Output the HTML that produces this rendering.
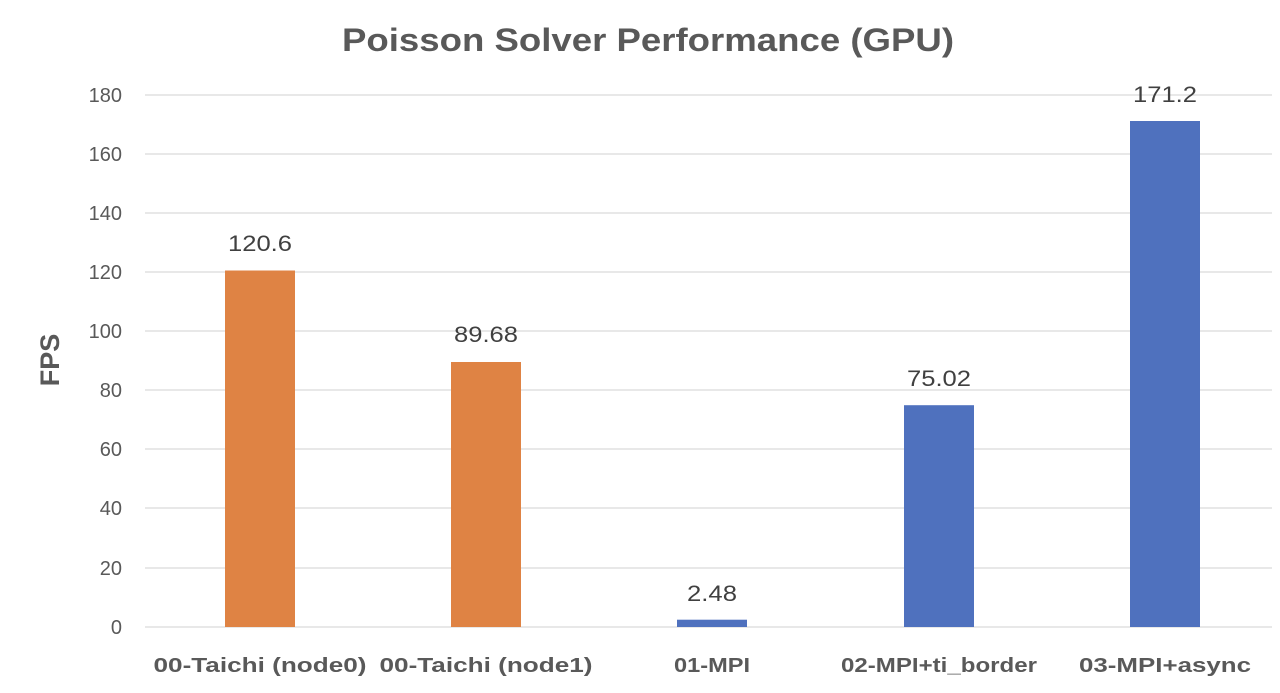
<!DOCTYPE html>
<html><head><meta charset="utf-8"><style>
html,body{margin:0;padding:0;background:#fff;}
svg{display:block;font-family:"Liberation Sans",sans-serif;}
</style></head><body>
<svg width="1280" height="693" viewBox="0 0 1280 693" xmlns="http://www.w3.org/2000/svg">
<rect width="1280" height="693" fill="#fff"/>
<text x="648" y="51" text-anchor="middle" font-size="32" font-weight="bold" fill="#595959" textLength="612" lengthAdjust="spacingAndGlyphs">Poisson Solver Performance (GPU)</text>
<g stroke="#d9d9d9" stroke-width="1.3">
<line x1="145" x2="1272" y1="95" y2="95"/>
<line x1="145" x2="1272" y1="154" y2="154"/>
<line x1="145" x2="1272" y1="213" y2="213"/>
<line x1="145" x2="1272" y1="272" y2="272"/>
<line x1="145" x2="1272" y1="331" y2="331"/>
<line x1="145" x2="1272" y1="390" y2="390"/>
<line x1="145" x2="1272" y1="449" y2="449"/>
<line x1="145" x2="1272" y1="508" y2="508"/>
<line x1="145" x2="1272" y1="568" y2="568"/>
<line x1="145" x2="1272" y1="627" y2="627"/>
</g>
<g font-size="20" fill="#595959" text-anchor="end">
<text x="122" y="102">180</text>
<text x="122" y="161">160</text>
<text x="122" y="220">140</text>
<text x="122" y="279">120</text>
<text x="122" y="338">100</text>
<text x="122" y="397">80</text>
<text x="122" y="456">60</text>
<text x="122" y="515">40</text>
<text x="122" y="575">20</text>
<text x="122" y="634">0</text>
</g>
<text transform="translate(59,360) rotate(-90)" text-anchor="middle" font-size="27" font-weight="bold" fill="#595959">FPS</text>
<rect x="225" y="270.5" width="70" height="356.5" fill="#DF8344"/>
<rect x="451" y="362" width="70" height="265" fill="#DF8344"/>
<rect x="677" y="619.7" width="70" height="7.3" fill="#4F71BE"/>
<rect x="904" y="405.2" width="70" height="221.8" fill="#4F71BE"/>
<rect x="1130" y="121" width="70" height="506" fill="#4F71BE"/>
<g font-size="22" fill="#404040" text-anchor="middle">
<text x="260" y="251" textLength="64" lengthAdjust="spacingAndGlyphs">120.6</text>
<text x="486" y="342" textLength="64" lengthAdjust="spacingAndGlyphs">89.68</text>
<text x="712" y="601" textLength="50" lengthAdjust="spacingAndGlyphs">2.48</text>
<text x="939" y="386" textLength="64" lengthAdjust="spacingAndGlyphs">75.02</text>
<text x="1165" y="102" textLength="64" lengthAdjust="spacingAndGlyphs">171.2</text>
</g>
<g font-size="20" font-weight="bold" fill="#595959" text-anchor="middle">
<text x="260" y="672" textLength="213" lengthAdjust="spacingAndGlyphs">00-Taichi (node0)</text>
<text x="486" y="672" textLength="213" lengthAdjust="spacingAndGlyphs">00-Taichi (node1)</text>
<text x="712" y="672" textLength="76" lengthAdjust="spacingAndGlyphs">01-MPI</text>
<text x="939" y="672" textLength="196" lengthAdjust="spacingAndGlyphs">02-MPI+ti_border</text>
<text x="1165" y="672" textLength="172" lengthAdjust="spacingAndGlyphs">03-MPI+async</text>
</g>
</svg>
</body></html>
